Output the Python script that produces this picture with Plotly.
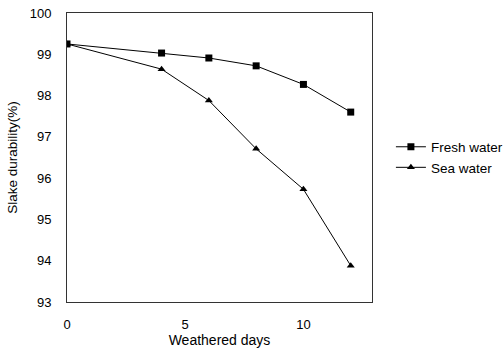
import plotly.graph_objects as go

# Slake durability vs. weathering time
days = [0, 4, 6, 8, 10, 12]
fresh_water = [99.25, 99.03, 98.91, 98.72, 98.27, 97.60]
sea_water = [99.25, 98.64, 97.88, 96.71, 95.73, 93.88]

x_ticks = [0, 5, 10]
y_ticks = [93, 94, 95, 96, 97, 98, 99, 100]

family = "Liberation Sans, Arial, sans-serif"
font = dict(family=family, size=13, color="black")

fig = go.Figure()
fig.add_trace(go.Scatter(
    x=days, y=fresh_water, name="Fresh water", mode="lines+markers",
    line=dict(color="black", width=1),
    marker=dict(symbol="square", size=7, color="black"),
))
fig.add_trace(go.Scatter(
    x=days, y=sea_water, name="Sea water", mode="lines+markers",
    line=dict(color="black", width=1),
    marker=dict(symbol="triangle-up", size=7, color="black"),
))

axis_common = dict(
    showgrid=False, zeroline=False, showline=True, linecolor="#333333",
    linewidth=1, mirror=True, ticks="", tickfont=dict(family=family, size=13),
)
fig.update_xaxes(
    range=[0, 12.9], tickvals=x_ticks, ticklabelstandoff=10,
    title=dict(text="Weathered days", standoff=7, font=dict(family=family, size=14)),
    **axis_common,
)
fig.update_yaxes(
    range=[93, 100], tickvals=y_ticks, ticklabelstandoff=12,
    title=dict(text="Slake durability(%)", standoff=8, font=dict(family=family, size=13.5)),
    **axis_common,
)

fig.update_layout(
    width=504, height=348,
    margin=dict(l=67, r=132, t=13, b=46, autoexpand=False),
    paper_bgcolor="white", plot_bgcolor="white",
    font=font,
    legend=dict(
        x=1.062, y=0.50, xanchor="left", yanchor="middle",
        itemwidth=30, tracegroupgap=0, font=dict(family=family, size=13.5),
        bgcolor="rgba(0,0,0,0)",
    ),
)

fig.write_html("out.html")
